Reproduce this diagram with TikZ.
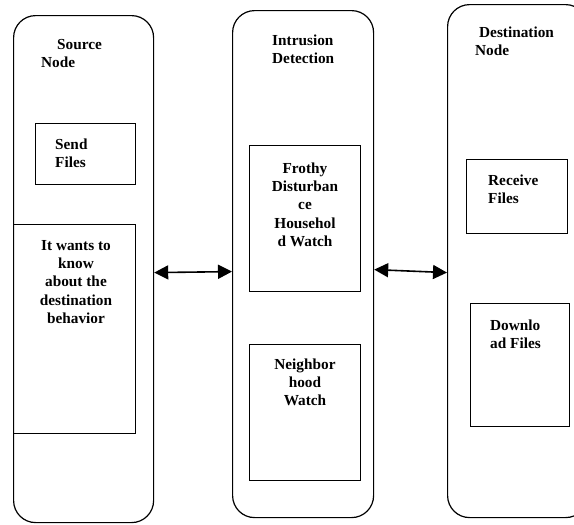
\documentclass[tikz,border=0pt]{standalone}
\usepackage{fontspec}
\setmainfont{Liberation Serif}
\usepackage{tikz}
\usetikzlibrary{arrows.meta}

\newcommand{\lblfont}{\fontsize{15.3}{18.3}\selectfont\bfseries}

\begin{document}
\begin{tikzpicture}[x=1pt,y=-1pt,>={Triangle[length=14pt,width=14pt]},
  column/.style={draw, line width=1.2pt, rounded corners=22pt, inner sep=0pt, anchor=north west},
  inbox/.style={draw, line width=1.1pt, inner sep=0pt, anchor=north west},
  lbl/.style={inner sep=0pt, font=\lblfont, anchor=north west, align=left},
  clbl/.style={inner sep=0pt, font=\lblfont, anchor=north, align=center},
  link/.style={<->, line width=1.6pt}]

  \useasboundingbox (0,0) rectangle (574,525);
  \clip (0,0) rectangle (574,525);

  \node[column, minimum width=140pt, minimum height=507pt] (src) at (13,15) {};
  \node[column, minimum width=141pt, minimum height=507pt] (ids) at (232,10) {};
  \node[column, minimum width=140pt, minimum height=513pt] (dst) at (447,4) {};

  \node[inbox, minimum width=100pt, minimum height=61pt] (send) at (35,123) {};
  \node[inbox, minimum width=122pt, minimum height=209pt] (know) at (13,224) {};
  \node[inbox, minimum width=111pt, minimum height=146pt] (frothy) at (249,145) {};
  \node[inbox, minimum width=111pt, minimum height=136pt] (nbr) at (249,344) {};
  \node[inbox, minimum width=101pt, minimum height=74pt] (recv) at (466,159) {};
  \node[inbox, minimum width=99pt, minimum height=123pt] (down) at (470,303) {};

  \node[lbl] (srcT) at (41,36.2) {\strut\hspace*{16pt}Source\\Node};
  \node[lbl] (idsT) at (272,32.2) {\strut Intrusion\\Detection};
  \node[lbl] (dstT) at (475,24.2) {\strut\hspace*{4pt}Destination\\Node};
  \node[lbl] (sendT) at (55,136.2) {\strut Send\\Files};
  \node[clbl] (knowT) at (76,237.2) {\strut It wants to\\know\\about the\\destination\\behavior};
  \node[clbl] (frothyT) at (305,160.2) {\strut Frothy\\Disturban\\ce\\Househol\\d Watch};
  \node[clbl] (nbrT) at (305,356.2) {\strut Neighbor\\hood\\Watch};
  \node[lbl] (recvT) at (488,172.2) {\strut Receive\\Files};
  \node[lbl] (downT) at (490,317.2) {\strut Downlo\\ad Files};

  \draw[link] ([yshift=-3.5pt]src.east) -- ([yshift=-7.5pt]ids.west);
  \draw[link] ([yshift=-5.5pt]ids.east) -- ([yshift=-11.5pt]dst.west);
\end{tikzpicture}
\end{document}
